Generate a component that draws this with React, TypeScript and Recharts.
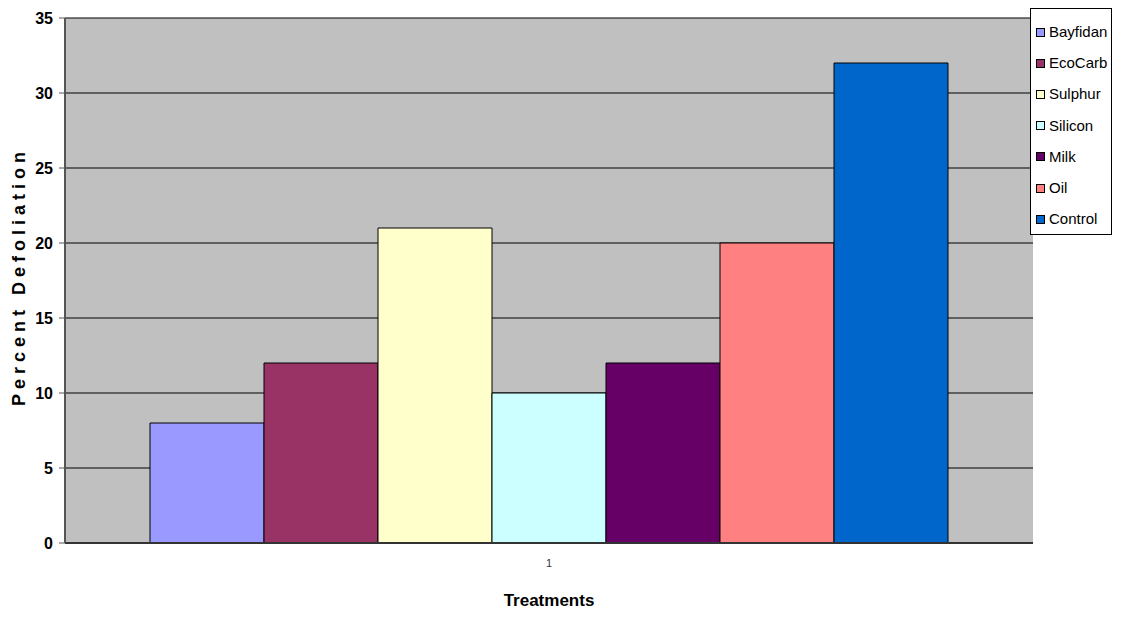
import React from 'react';
import { BarChart, Bar, XAxis, YAxis, CartesianGrid, Legend } from 'recharts';

const categories = ['1'];
const seriesNames = ['Bayfidan', 'EcoCarb', 'Sulphur', 'Silicon', 'Milk', 'Oil', 'Control'];
const seriesValues = [8, 12, 21, 10, 12, 20, 32];
const seriesColors = ['#9999FF', '#993366', '#FFFFCC', '#CCFFFF', '#660066', '#FF8080', '#0066CC'];
const yTicks = [0, 5, 10, 15, 20, 25, 30, 35];

const data = categories.map((name) => {
  const row: Record<string, string | number> = { name };
  seriesNames.forEach((s, i) => {
    row[s] = seriesValues[i];
  });
  return row;
});

const sans = "'Liberation Sans', Arial, sans-serif";

const YLabel = (props: any) => {
  const { viewBox } = props;
  const cy = viewBox.y + viewBox.height / 2 - 4;
  return (
    <text
      x={19}
      y={cy}
      transform={`rotate(-90, 19, ${cy})`}
      textAnchor="middle"
      dominantBaseline="central"
      fontFamily={sans}
      fontWeight="bold"
      fontSize={18}
      letterSpacing={5}
      fill="#000"
    >
      Percent Defoliation
    </text>
  );
};

const XLabel = (props: any) => {
  const { viewBox } = props;
  return (
    <text
      x={viewBox.x + viewBox.width / 2}
      y={viewBox.y + 63}
      textAnchor="middle"
      fontFamily={sans}
      fontWeight="bold"
      fontSize={17}
      fill="#000"
    >
      Treatments
    </text>
  );
};

const LegendBox = () => (
  <div
    style={{
      width: 80,
      height: 225,
      border: '1px solid #000',
      background: '#fff',
      boxSizing: 'content-box',
      position: 'relative',
    }}
  >
    {seriesNames.map((s, i) => (
      <div
        key={s}
        style={{
          position: 'absolute',
          left: 5,
          top: 14 + i * 31.2,
          display: 'flex',
          alignItems: 'center',
          fontFamily: sans,
          fontSize: 15,
          lineHeight: '18px',
          color: '#000',
          whiteSpace: 'nowrap',
        }}
      >
        <span
          style={{
            display: 'inline-block',
            width: 7,
            height: 7,
            background: seriesColors[i],
            border: '1px solid #000',
            marginRight: 4,
          }}
        />
        {s}
      </div>
    ))}
  </div>
);

export default function App() {
  return (
    <div style={{ position: 'absolute', left: 0, top: 0, width: 1128, height: 619, background: '#fff' }}>
      <BarChart
        width={1128}
        height={619}
        data={data}
        margin={{ top: 18, right: 95, bottom: 0, left: 0 }}
        barGap={0}
        barCategoryGap={85}
      >
        <CartesianGrid fill="#C0C0C0" stroke="#000" vertical={false} />
        <XAxis
          dataKey="name"
          height={76}
          tickLine={false}
          tickSize={0}
          tickMargin={16}
          axisLine={{ stroke: '#333', strokeWidth: 2 }}
          tick={{ fontFamily: sans, fontSize: 11, fill: '#333' }}
          label={<XLabel />}
        />
        <YAxis
          width={65}
          domain={[0, 35]}
          ticks={yTicks}
          interval={0}
          tickSize={6}
          tickMargin={6}
          axisLine={{ stroke: '#555', strokeWidth: 2 }}
          tickLine={{ stroke: '#555' }}
          tick={{ fontFamily: sans, fontWeight: 'bold', fontSize: 16, fill: '#000' }}
          label={<YLabel />}
        />
        <Legend
          layout="vertical"
          align="center"
          verticalAlign="middle"
          wrapperStyle={{ position: 'absolute', left: 1030, top: 8, width: 82, height: 227 }}
          content={() => <LegendBox />}
        />
        {seriesNames.map((s, i) => (
          <Bar key={s} dataKey={s} fill={seriesColors[i]} stroke="#000" strokeWidth={1} isAnimationActive={false} />
        ))}
      </BarChart>
    </div>
  );
}
